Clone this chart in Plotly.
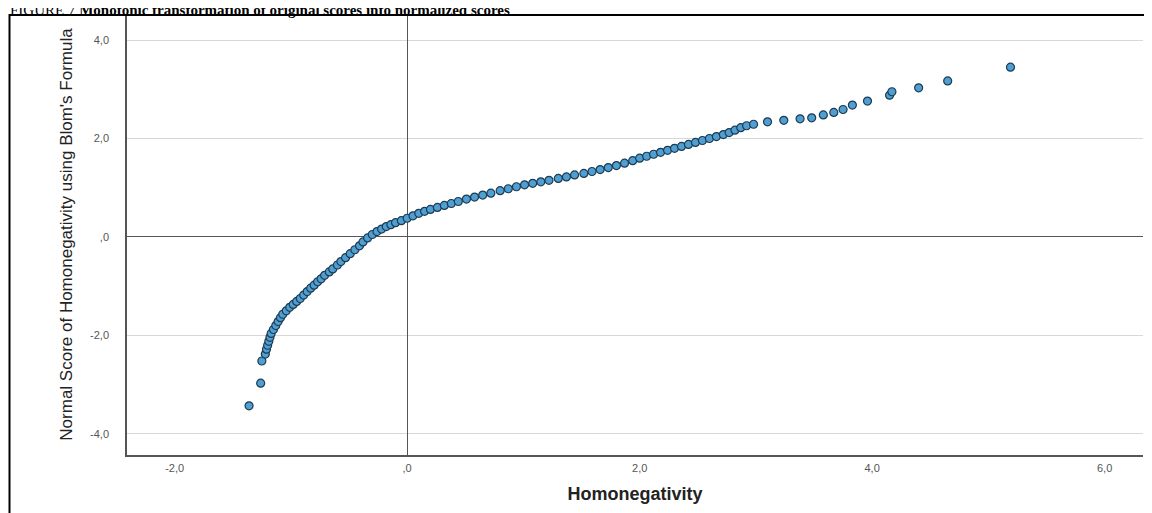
import plotly.graph_objects as go

# Homonegativity (z-scores) and Blom normal scores
homonegativity = [
    -1.36, -1.26, -1.25, -1.22, -1.21, -1.20, -1.19, -1.18, -1.17, -1.15,
    -1.13, -1.11, -1.09, -1.07, -1.04, -1.01, -0.98, -0.95, -0.92, -0.89,
    -0.86, -0.83, -0.80, -0.77, -0.74, -0.71, -0.67, -0.64, -0.60, -0.57,
    -0.53, -0.49, -0.45, -0.41, -0.38, -0.34, -0.30, -0.26, -0.22, -0.18,
    -0.14, -0.10, -0.05, 0.00, 0.05, 0.10, 0.15, 0.20, 0.26, 0.32,
    0.38, 0.44, 0.51, 0.58, 0.65, 0.72, 0.80, 0.87, 0.94, 1.01,
    1.08, 1.15, 1.22, 1.30, 1.37, 1.44, 1.52, 1.59, 1.66, 1.73,
    1.80, 1.87, 1.94, 2.00, 2.06, 2.12, 2.18, 2.24, 2.30, 2.36,
    2.42, 2.48, 2.54, 2.60, 2.66, 2.72, 2.77, 2.82, 2.87, 2.92,
    2.98, 3.10, 3.24, 3.38, 3.48, 3.58, 3.67, 3.75, 3.83, 3.96,
    4.15, 4.17, 4.40, 4.65, 5.19,
]
blom_score = [
    -3.43, -2.97, -2.52, -2.38, -2.28, -2.20, -2.12, -2.04, -1.96, -1.88,
    -1.80, -1.72, -1.64, -1.57, -1.50, -1.43, -1.37, -1.31, -1.25, -1.18,
    -1.11, -1.04, -0.98, -0.91, -0.85, -0.78, -0.71, -0.65, -0.57, -0.50,
    -0.42, -0.34, -0.26, -0.18, -0.10, -0.02, 0.05, 0.11, 0.16, 0.21,
    0.25, 0.29, 0.33, 0.38, 0.43, 0.48, 0.52, 0.56, 0.60, 0.64,
    0.68, 0.72, 0.77, 0.81, 0.85, 0.89, 0.94, 0.98, 1.02, 1.06,
    1.09, 1.12, 1.15, 1.19, 1.22, 1.26, 1.29, 1.33, 1.37, 1.41,
    1.45, 1.50, 1.55, 1.60, 1.64, 1.68, 1.72, 1.76, 1.80, 1.84,
    1.88, 1.92, 1.96, 2.00, 2.04, 2.08, 2.12, 2.17, 2.22, 2.26,
    2.29, 2.34, 2.37, 2.40, 2.42, 2.48, 2.53, 2.59, 2.68, 2.76,
    2.88, 2.95, 3.03, 3.17, 3.45,
]

x_tickvals = [-2, 0, 2, 4, 6]
x_ticktext = ["-2,0", ",0", "2,0", "4,0", "6,0"]
y_tickvals = [-4, -2, 0, 2, 4]
y_ticktext = ["-4,0", "-2,0", ",0", "2,0", "4,0"]

# the page adds an 8px body margin; the figure is sized to fit the window
OFF = 8
W, H = 1152 - OFF, 513 - OFF
ML = 127 - OFF
MT = 14 - OFF
MR = W - (1143 - OFF)
MB = H - (455 - OFF)
PW, PH = W - ML - MR, H - MT - MB


def px_x(page_x):
    return (page_x - OFF - ML) / PW


def px_y(page_y):
    return (H - MB - (page_y - OFF)) / PH


fig = go.Figure()
fig.add_trace(go.Scatter(
    x=homonegativity, y=blom_score, mode="markers",
    marker=dict(size=8, color="#4f9fd2", line=dict(color="#1e3b52", width=1.2)),
    showlegend=False, hoverinfo="x+y",
))

fig.update_layout(
    width=W, height=H,
    margin=dict(l=ML, r=MR, t=MT, b=MB),
    paper_bgcolor="white", plot_bgcolor="white",
    font=dict(family="Liberation Sans, Arial, sans-serif"),
    xaxis=dict(
        range=[-2.41, 6.33], tickvals=x_tickvals, ticktext=x_ticktext,
        showgrid=False, zeroline=True, zerolinecolor="#555555", zerolinewidth=1,
        showline=True, linecolor="#555555", linewidth=1.5,
        ticks="", tickfont=dict(size=11, color="#555555"), ticklabelstandoff=2,
        title=dict(text="<b>Homonegativity</b>", font=dict(size=18, color="#222222"), standoff=14),
    ),
    yaxis=dict(
        range=[-4.43, 4.53], tickvals=y_tickvals, ticktext=y_ticktext,
        showgrid=True, gridcolor="#d8d8d8", gridwidth=1,
        zeroline=True, zerolinecolor="#555555", zerolinewidth=1,
        showline=True, linecolor="#555555", linewidth=1.5,
        ticks="", tickfont=dict(size=11, color="#555555"), ticklabelstandoff=14,
        title=dict(text="Normal Score of Homonegativity using Blom's Formula",
                   font=dict(size=17, color="#222222"), standoff=13),
    ),
    shapes=[dict(
        type="rect", xref="paper", yref="paper",
        x0=px_x(9.5), x1=px_x(1150), y0=px_y(520), y1=px_y(15),
        line=dict(color="black", width=2), fillcolor="rgba(0,0,0,0)", layer="above",
    )],
    annotations=[dict(
        text="FIGURE 7 <b>Monotonic transformation of original scores into normalized scores</b>",
        xref="paper", yref="paper", x=px_x(8), y=px_y(20), xanchor="left", yanchor="bottom",
        showarrow=False, font=dict(family="Liberation Serif, Times New Roman, serif", size=15, color="black"),
    )],
)

fig.write_html("out.html")
